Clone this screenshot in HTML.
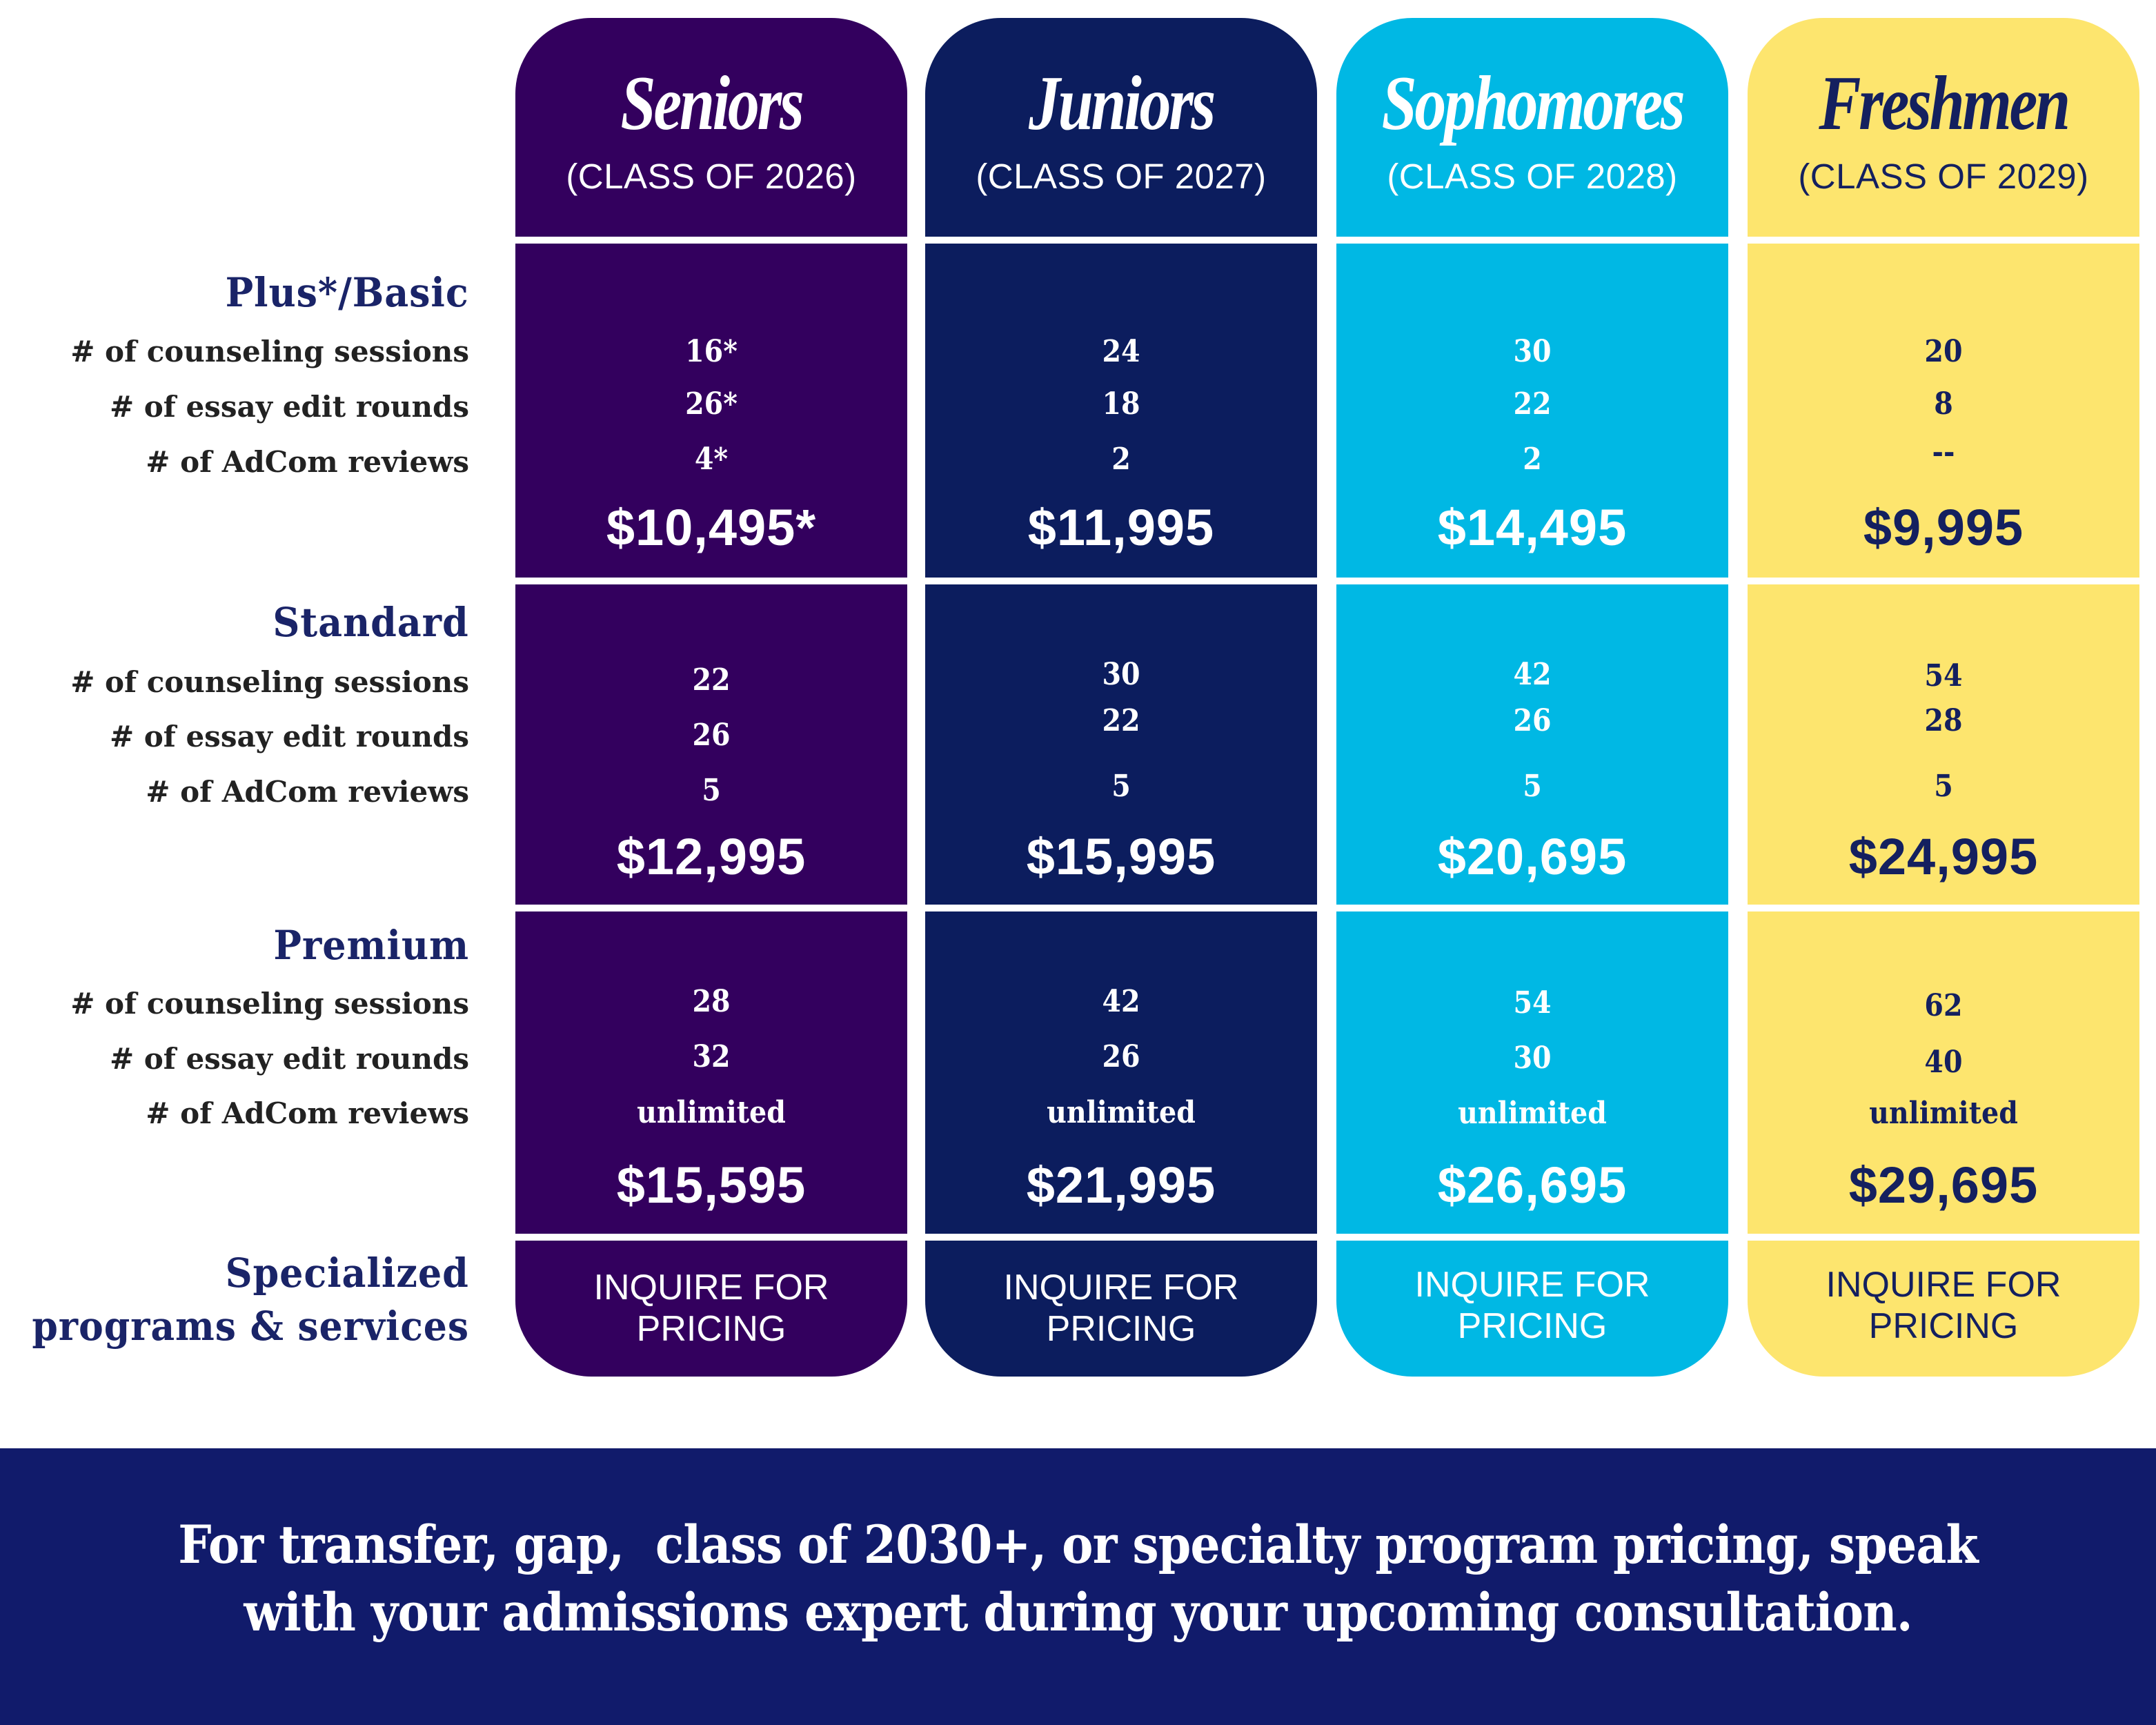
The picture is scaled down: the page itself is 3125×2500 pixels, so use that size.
<!DOCTYPE html>
<html><head><meta charset="utf-8"><style>
body{margin:0;width:3125px;height:2500px;background:#fff;position:relative;overflow:hidden;font-family:"Liberation Sans",sans-serif}
.col{position:absolute;width:568px}
.blk{position:absolute;left:0;width:568px}
.t{position:absolute;left:0;width:568px;text-align:center;white-space:nowrap;line-height:1.2}
.title{font-family:"Liberation Serif",serif;font-style:italic;font-weight:bold;font-size:112px;letter-spacing:-4px;transform:scaleX(0.82)}
.cls{font-size:51px;letter-spacing:0.5px}
.num{font-family:"DejaVu Serif",serif;font-weight:bold;font-size:44px;transform:scaleX(0.9)}
.price{font-size:74px;font-weight:bold;letter-spacing:1px}
.inq{font-size:52px}
.lab{position:absolute;right:2445px;text-align:right;white-space:nowrap;line-height:1.2;font-family:"DejaVu Serif",serif;font-weight:bold;transform-origin:right center}
.h{font-size:58px;color:#1a2468;letter-spacing:1px;transform:scaleX(0.93)}
.s{font-size:42px;color:#222}
</style></head><body>
<div>
<div class="lab h" style="top:390px">Plus*/Basic</div>
<div class="lab s" style="top:485px"># of counseling sessions</div>
<div class="lab s" style="top:565px"># of essay edit rounds</div>
<div class="lab s" style="top:645px"># of AdCom reviews</div>
<div class="lab h" style="top:868px">Standard</div>
<div class="lab s" style="top:964px"># of counseling sessions</div>
<div class="lab s" style="top:1043px"># of essay edit rounds</div>
<div class="lab s" style="top:1123px"># of AdCom reviews</div>
<div class="lab h" style="top:1336px">Premium</div>
<div class="lab s" style="top:1430px"># of counseling sessions</div>
<div class="lab s" style="top:1510px"># of essay edit rounds</div>
<div class="lab s" style="top:1589px"># of AdCom reviews</div>
<div class="lab h" style="top:1811px">Specialized</div>
<div class="lab h" style="top:1888px;transform:scaleX(0.925)">programs &amp; services</div>
</div>
<div id="cols"></div>
<div style="position:absolute;left:0;top:2099px;width:3125px;height:401px;background:#111b6b"></div>
<div style="position:absolute;left:0;top:2190px;width:3125px;text-align:center;color:#fff;font-family:'DejaVu Serif',serif;font-weight:bold;font-size:76px;line-height:98px;letter-spacing:-1px;transform:scaleX(0.895)">For transfer, gap,&nbsp; class of 2030+, or specialty program pricing, speak<br>with your admissions expert during your upcoming consultation.</div>
<script>
const classNames=["Seniors","Juniors","Sophomores","Freshmen"];
const classYears=["(CLASS OF 2026)","(CLASS OF 2027)","(CLASS OF 2028)","(CLASS OF 2029)"];
const basicVals=[["16*","26*","4*"],["24","18","2"],["30","22","2"],["20","8","--"]];
const basicPrice=["$10,495*","$11,995","$14,495","$9,995"];
const standardVals=[["22","26","5"],["30","22","5"],["42","26","5"],["54","28","5"]];
const standardPrice=["$12,995","$15,995","$20,695","$24,995"];
const premiumVals=[["28","32","unlimited"],["42","26","unlimited"],["54","30","unlimited"],["62","40","unlimited"]];
const premiumPrice=["$15,595","$21,995","$26,695","$29,695"];
const colLeft=[747,1341,1937,2533];
const bg=["#33005e","#0c1d5e","#00b8e4","#fde56e"];
const fg=["#fff","#fff","#fff","#14205f"];
const numY=[[[510,586,666],[986,1066,1146],[1452,1532,1613]],[[510,586,666],[978,1045,1140],[1452,1532,1613]],[[510,586,666],[978,1045,1140],[1454,1534,1614]],[[510,586,656],[980,1045,1140],[1458,1540,1614]]];
const root=document.getElementById('cols');
function txt(parent,cls,text,cy,fs,color){
 const d=document.createElement('div');d.className='t '+cls;d.textContent=text;
 d.style.top=(cy-fs*0.6)+'px';d.style.color=color;parent.appendChild(d);return d;}
for(let i=0;i<4;i++){
 const c=document.createElement('div');c.className='col';
 
 
 c.style.left=colLeft[i]+'px';c.style.top='0px';c.style.height='2000px';root.appendChild(c);
 const segs=[[26,343,'110px 110px 0 0'],[353,837,'0'],[847,1311,'0'],[1321,1788,'0'],[1798,1995,'0 0 110px 110px']];
 segs.forEach((s,k)=>{const b=document.createElement('div');b.className='blk';
  
  
  b.style.top=s[0]+'px';b.style.height=(s[1]-s[0])+'px';b.style.background=bg[i];b.style.borderRadius=s[2];c.appendChild(b);});
 let e=txt(c,'title',classNames[i],150,112,fg[i]);
 
 
 e=txt(c,'cls',classYears[i],256,51,fg[i]);
 
 
 const tiers=[basicVals,standardVals,premiumVals],prices=[basicPrice,standardPrice,premiumPrice],py=[765,1242,1718];
 for(let t=0;t<3;t++){
  for(let r=0;r<3;r++){const v=tiers[t][i][r];
   e=txt(c,'num',v,numY[i][t][r],44,fg[i]);
   
   }
  e=txt(c,'price',prices[t][i],py[t],74,fg[i]);
  
  
 }
 const iy=i<2?[1866,1926]:[1862,1922];
 e=txt(c,'inq','INQUIRE FOR',iy[0],52,fg[i]);
 
 
 e=txt(c,'inq','PRICING',iy[1],52,fg[i]);
 
 
}
</script>
</body></html>
